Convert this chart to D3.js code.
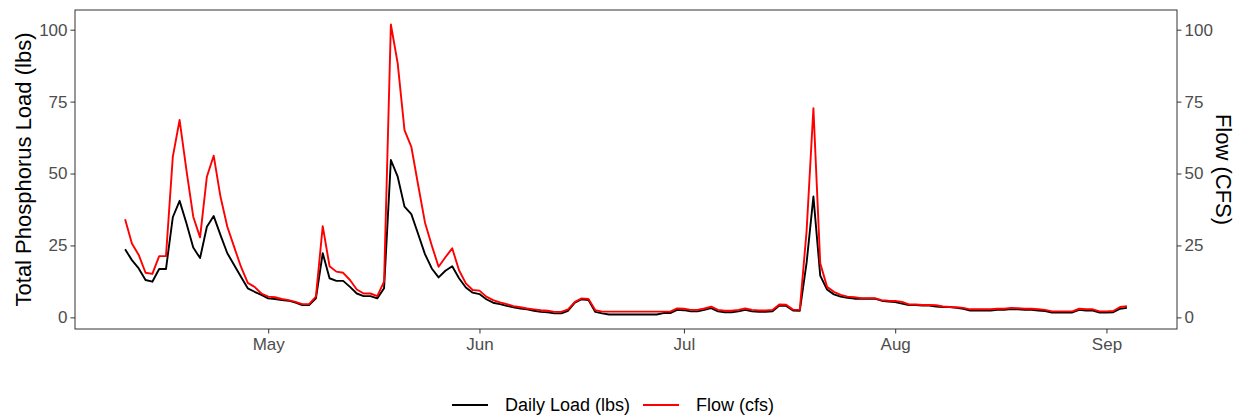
<!DOCTYPE html>
<html lang="en">
<head>
<meta charset="utf-8">
<title>Total Phosphorus Load and Flow</title>
<script src="https://cdn.jsdelivr.net/npm/d3@7"></script>
<style>
  body { margin: 0; background: #fff; }
  svg text { font-family: "Liberation Sans", Arial, sans-serif; }
  .axis path, .axis line { stroke: #333; }
  .axis text { fill: #4d4d4d; font-size: 17px; }
</style>
</head>
<body>
<script>
// daily series, starting on this date (one value per day)
var startDate = new Date(2021, 3, 10);

var flow = [
  34.1, 25.7, 21.7, 15.5, 15.1, 21.3, 21.3, 55.8, 68.6, 51.2,
  35.0, 27.8, 48.9, 56.2, 41.9, 31.5, 24.5, 17.6, 12.0, 10.6,
  8.3, 7.2, 7.0, 6.4, 6.0, 5.4, 4.6, 4.6, 7.2, 31.7,
  17.8, 15.9, 15.5, 13.0, 9.7, 8.3, 8.3, 7.4, 12.4, 101.8,
  88.3, 65.1, 59.3, 46.0, 33.0, 25.0, 17.6, 20.9, 24.0, 16.4,
  11.8, 9.5, 9.3, 7.2, 6.0, 5.2, 4.6, 3.9, 3.5, 3.1,
  2.8, 2.5, 2.3, 1.9, 1.9, 2.8, 5.4, 6.6, 6.4, 2.5,
  2.0, 2.0, 2.0, 2.0, 2.0, 2.0, 2.0, 2.0, 2.0, 2.0,
  2.0, 3.1, 3.0, 2.6, 2.6, 3.1, 3.7, 2.6, 2.3, 2.3,
  2.6, 3.1, 2.6, 2.4, 2.4, 2.6, 4.5, 4.4, 2.7, 2.6,
  30.0, 72.7, 18.8, 10.6, 8.9, 7.8, 7.2, 7.0, 6.7, 6.7,
  6.7, 6.0, 5.8, 5.7, 5.4, 4.5, 4.5, 4.3, 4.3, 4.2,
  3.8, 3.6, 3.5, 3.3, 2.8, 2.8, 2.8, 2.8, 3.0, 3.0,
  3.3, 3.2, 3.0, 3.0, 2.8, 2.6, 2.1, 2.1, 2.1, 2.1,
  3.0, 2.8, 2.8, 2.1, 2.1, 2.2, 3.6, 3.9
];

var load = [
  23.7, 19.9, 17.0, 13.0, 12.4, 16.8, 16.8, 34.8, 40.5, 32.7,
  24.3, 20.6, 31.5, 35.2, 28.6, 22.3, 18.2, 14.1, 10.1, 8.9,
  7.8, 6.6, 6.4, 6.0, 5.8, 5.1, 4.3, 4.3, 6.6, 22.3,
  13.6, 12.7, 12.7, 10.6, 8.3, 7.4, 7.4, 6.6, 10.1, 54.7,
  48.9, 38.5, 35.9, 29.0, 22.0, 17.0, 13.9, 16.2, 17.8, 13.6,
  10.4, 8.6, 8.1, 6.3, 5.1, 4.6, 4.0, 3.5, 3.1, 2.8,
  2.3, 1.9, 1.8, 1.4, 1.4, 2.3, 5.1, 6.3, 6.0, 1.9,
  1.4, 1.0, 1.0, 1.0, 1.0, 1.0, 1.0, 1.0, 1.0, 1.5,
  1.5, 2.6, 2.5, 2.1, 2.1, 2.6, 3.2, 2.1, 1.8, 1.8,
  2.1, 2.6, 2.1, 1.9, 1.9, 2.1, 4.1, 4.0, 2.4, 2.3,
  19.0, 42.0, 14.5, 9.7, 8.0, 7.2, 6.8, 6.5, 6.5, 6.5,
  6.5, 5.8, 5.5, 5.3, 4.8, 4.3, 4.3, 4.1, 4.1, 3.8,
  3.6, 3.6, 3.3, 3.0, 2.4, 2.4, 2.4, 2.4, 2.6, 2.6,
  2.9, 2.8, 2.6, 2.6, 2.4, 2.2, 1.7, 1.7, 1.7, 1.7,
  2.6, 2.4, 2.4, 1.7, 1.7, 1.8, 3.0, 3.3
];

var yTicks = [0, 25, 50, 75, 100];
var seriesNames = ["Daily Load (lbs)", "Flow (cfs)"];
var seriesColors = ["#000000", "#ff0000"];

var w = 1239, h = 416;
var padL = 75, padR = 1177, padT = 10, padB = 329;

var dates = flow.map(function(d, i) { return d3.timeDay.offset(startDate, i); });

var svg = d3.select("body").append("svg")
  .attr("width", w)
  .attr("height", h);

// ggplot-like 5% expansion
var xExt = d3.extent(dates);
var xPad = (xExt[1] - xExt[0]) * 0.05;
var xScale = d3.scaleTime()
  .domain([new Date(+xExt[0] - xPad), new Date(+xExt[1] + xPad)])
  .range([padL, padR]);

var yExt = d3.extent(flow.concat(load));
var yPad = (yExt[1] - yExt[0]) * 0.05;
var yScale = d3.scaleLinear()
  .domain([yExt[0] - yPad, yExt[1] + yPad])
  .range([padB, padT]);

var line = function(vals) {
  return d3.line()
    .x(function(d, i) { return xScale(dates[i]); })
    .y(function(d) { return yScale(d); })(vals);
};

svg.append("path")
  .attr("d", line(load))
  .attr("fill", "none")
  .attr("stroke", seriesColors[0])
  .attr("stroke-width", 1.9)
  .attr("stroke-linejoin", "round");

svg.append("path")
  .attr("d", line(flow))
  .attr("fill", "none")
  .attr("stroke", seriesColors[1])
  .attr("stroke-width", 1.9)
  .attr("stroke-linejoin", "round");

// panel border
svg.append("rect")
  .attr("x", padL).attr("y", padT)
  .attr("width", padR - padL).attr("height", padB - padT)
  .attr("fill", "none")
  .attr("stroke", "#333")
  .attr("stroke-width", 1);

// axes
var xAxis = d3.axisBottom(xScale)
  .ticks(d3.timeMonth.every(1))
  .tickFormat(d3.timeFormat("%b"))
  .tickSize(4.5).tickPadding(4);
svg.append("g").attr("class", "axis")
  .attr("transform", "translate(0," + padB + ")")
  .call(xAxis);

var yAxisL = d3.axisLeft(yScale).tickValues(yTicks).tickSize(4.5).tickPadding(3);
svg.append("g").attr("class", "axis")
  .attr("transform", "translate(" + padL + ",0)")
  .call(yAxisL);

var yAxisR = d3.axisRight(yScale).tickValues(yTicks).tickSize(4.5).tickPadding(3);
svg.append("g").attr("class", "axis")
  .attr("transform", "translate(" + padR + ",0)")
  .call(yAxisR);

svg.selectAll(".axis .domain").remove();

// axis titles
svg.append("text")
  .attr("transform", "translate(23," + ((padT + padB) / 2) + ") rotate(-90)")
  .attr("text-anchor", "middle")
  .attr("dy", "0.35em")
  .attr("font-size", "22px")
  .attr("fill", "#000")
  .text("Total Phosphorus Load (lbs)");

svg.append("text")
  .attr("transform", "translate(1224," + ((padT + padB) / 2) + ") rotate(90)")
  .attr("text-anchor", "middle")
  .attr("dy", "0.35em")
  .attr("font-size", "22px")
  .attr("fill", "#000")
  .text("Flow (CFS)");

// legend
var legend = svg.append("g").attr("transform", "translate(452,405)");
var lx = [0, 191];
seriesNames.forEach(function(name, i) {
  legend.append("line")
    .attr("x1", lx[i]).attr("x2", lx[i] + 36)
    .attr("y1", 0).attr("y2", 0)
    .attr("stroke", seriesColors[i])
    .attr("stroke-width", 1.9);
  legend.append("text")
    .attr("x", lx[i] + 53)
    .attr("y", 0)
    .attr("dy", "0.35em")
    .attr("font-size", "18px")
    .attr("fill", "#000")
    .text(name);
});
</script>
</body>
</html>
